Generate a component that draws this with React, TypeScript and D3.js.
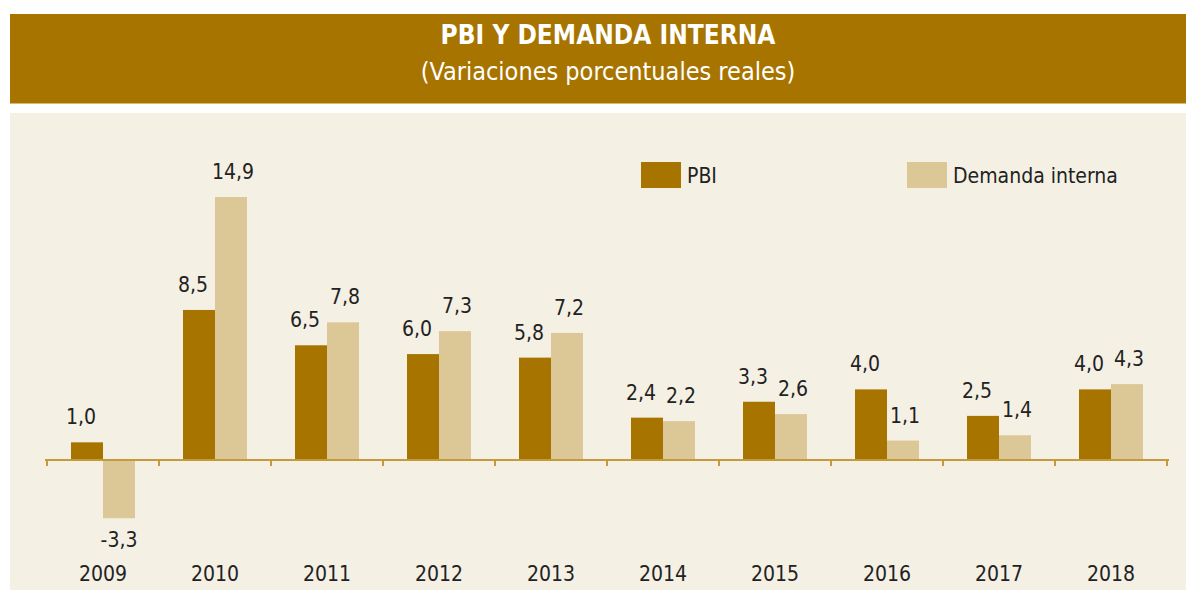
import React from "react";
import * as d3 from "d3";

const years = ["2009", "2010", "2011", "2012", "2013", "2014", "2015", "2016", "2017", "2018"];
const pbi = [1.0, 8.5, 6.5, 6.0, 5.8, 2.4, 3.3, 4.0, 2.5, 4.0];
const demanda = [-3.3, 14.9, 7.8, 7.3, 7.2, 2.2, 2.6, 1.1, 1.4, 4.3];
const seriesNames = ["PBI", "Demanda interna"];
const seriesColors = ["#A87400", "#DCC797"];

const W = 1194;
const H = 598;
const FONT = "'Liberation Sans Narrow', 'DejaVu Sans Condensed', 'Roboto', sans-serif";

const fmt = (v: number) => v.toFixed(1).replace(".", ",");
const labelShift = [-6, 2];

export default function App() {
  const x = d3.scaleBand<string>().domain(years).range([47, 1167]).paddingInner(0).paddingOuter(0);
  const inner = d3.scaleBand<string>().domain(["0", "1"]).range([0, x.bandwidth()]).paddingInner(0).paddingOuter(0.75);
  const y = d3.scaleLinear().domain([0, 14.9]).range([460, 197]);
  const series = [pbi, demanda];

  const ticks = years.map((_, i) => 47 + i * x.step()).concat([1167]);

  return (
    <div style={{ margin: -8, width: W, height: H, overflow: "hidden" }}>
      <svg width={W} height={H} style={{ display: "block", fontFamily: FONT }}>
        <rect x={0} y={0} width={W} height={H} fill="#ffffff" />
        <rect x={10} y={14} width={W - 10} height={89} fill="#A87400" />
        <line x1={10} x2={W} y1={103.5} y2={103.5} stroke="#D9B873" strokeWidth={1} />
        <text x={608} y={44} textAnchor="middle" fill="#ffffff" fontSize={26} fontWeight="bold">
          PBI Y DEMANDA INTERNA
        </text>
        <text x={608} y={80} textAnchor="middle" fill="#ffffff" fontSize={25}>
          (Variaciones porcentuales reales)
        </text>
        <rect x={10} y={113} width={W - 10} height={H - 113} fill="#F4F0E4" />

        {/* legend */}
        {seriesNames.map((n, i) => {
          const lx = i === 0 ? 641 : 907;
          return (
            <g key={n}>
              <rect x={lx} y={162} width={40} height={26} fill={seriesColors[i]} />
              <text x={lx + 46} y={183} fontSize={21} fill="#222">
                {n}
              </text>
            </g>
          );
        })}

        {/* bars */}
        {years.map((yr, i) => (
          <g key={yr}>
            {series.map((s, j) => {
              const v = s[i];
              const bx = (x(yr) as number) + (inner(String(j)) as number);
              const top = Math.min(y(v), y(0));
              const h = Math.abs(y(v) - y(0));
              return (
                <g key={j}>
                  <rect x={bx} y={top} width={inner.bandwidth()} height={h} fill={seriesColors[j]} />
                  <text
                    x={bx + inner.bandwidth() / 2 + (v >= 0 ? labelShift[j] : 0)}
                    y={v >= 0 ? y(v) - 18 : y(v) + 29}
                    textAnchor="middle"
                    fontSize={21}
                    fill="#222"
                  >
                    {fmt(v)}
                  </text>
                </g>
              );
            })}
            <text x={(x(yr) as number) + x.bandwidth() / 2} y={581} textAnchor="middle" fontSize={21} fill="#222">
              {yr}
            </text>
          </g>
        ))}

        {/* axis */}
        <line x1={45} x2={1169} y1={y(0)} y2={y(0)} stroke="#C59A3A" strokeWidth={2} />
        {ticks.map((t, i) => (
          <line key={i} x1={t} x2={t} y1={y(0)} y2={y(0) + 6} stroke="#C59A3A" strokeWidth={2} />
        ))}
      </svg>
    </div>
  );
}
